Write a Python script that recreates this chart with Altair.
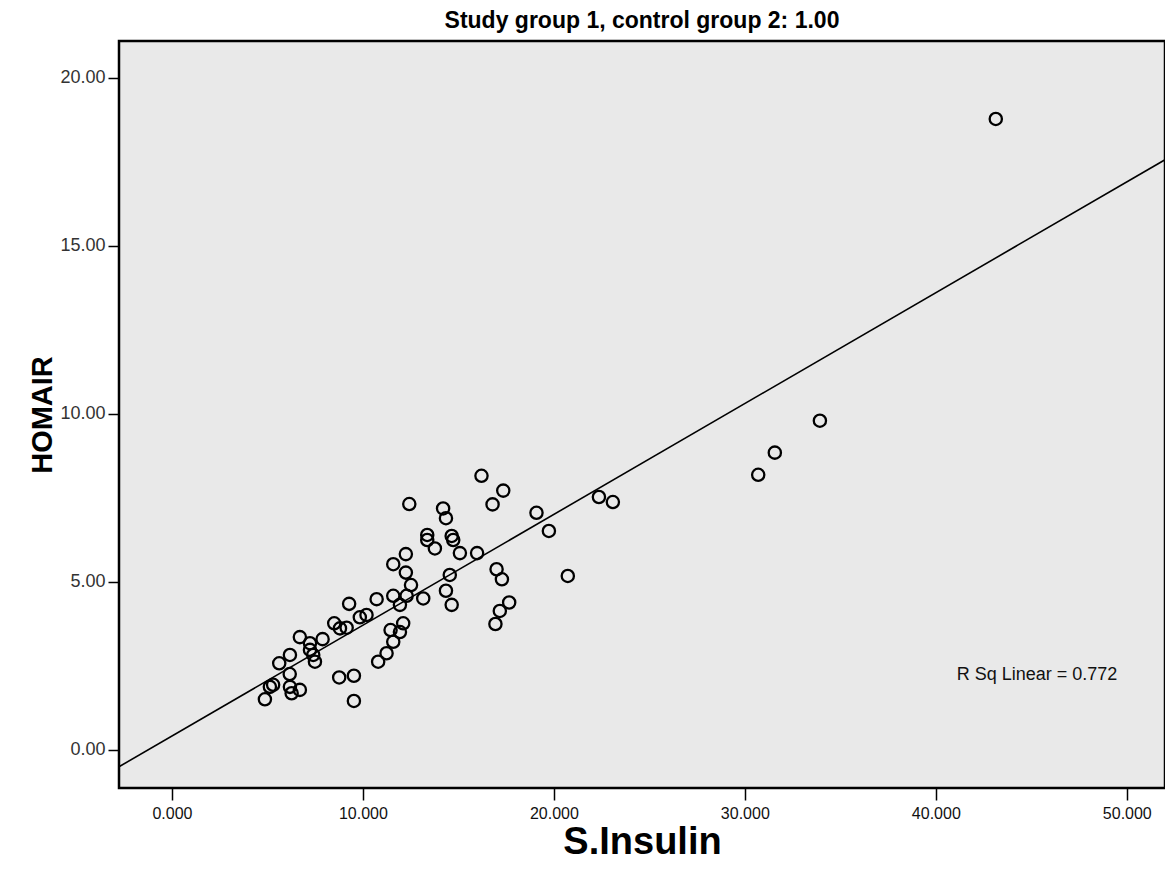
import altair as alt
import pandas as pd

# S.Insulin values (x) and HOMAIR values (y)
insulin = [43.14, 33.93, 31.57, 30.70, 22.36, 23.09, 20.73, 16.21, 17.35, 16.79,
           19.09, 19.74, 15.98, 15.08, 14.65, 14.73, 14.20, 14.35, 17.00, 17.28,
           14.55, 14.35, 14.65, 17.66, 17.17, 16.94, 12.43, 13.37, 13.37, 13.77,
           12.25, 11.59, 12.25, 12.52, 10.72, 11.59, 12.29, 13.16, 11.94, 9.28,
           9.84, 10.19, 8.50, 8.80, 9.15, 12.11, 11.45, 11.94, 11.59, 11.24,
           10.80, 6.70, 7.89, 7.23, 7.23, 7.40, 7.49, 6.18, 5.62, 6.17,
           5.13, 5.30, 4.87, 6.18, 6.27, 6.70, 8.76, 9.53, 9.53]
homair = [18.77, 9.79, 8.84, 8.18, 7.52, 7.37, 5.17, 8.15, 7.71, 7.30,
          7.05, 6.51, 5.85, 5.85, 6.36, 6.24, 7.18, 6.89, 5.37, 5.07,
          5.20, 4.73, 4.31, 4.38, 4.13, 3.74, 7.31, 6.39, 6.24, 5.99,
          5.82, 5.52, 5.27, 4.90, 4.48, 4.58, 4.58, 4.50, 4.31, 4.34,
          3.94, 4.01, 3.76, 3.61, 3.63, 3.76, 3.56, 3.50, 3.21, 2.87,
          2.62, 3.35, 3.29, 3.17, 2.97, 2.82, 2.62, 2.82, 2.57, 2.25,
          1.87, 1.93, 1.50, 1.87, 1.68, 1.78, 2.15, 2.20, 1.45]

x_ticks = [0, 10, 20, 30, 40, 50]
y_ticks = [0, 5, 10, 15, 20]
x_domain = [-2.77, 52.0]
y_domain = [-1.14, 21.09]

annot_x = [45.3]
annot_y = [2.22]
annot_text = ["R Sq Linear = 0.772"]

title_text = "Study group 1, control group 2: 1.00"

df = pd.DataFrame({"insulin": insulin, "homair": homair})
adf = pd.DataFrame({"insulin": annot_x, "homair": annot_y, "label": annot_text})

FONT = "Liberation Sans, Arial, sans-serif"

xscale = alt.Scale(domain=x_domain, nice=False, zero=False)
yscale = alt.Scale(domain=y_domain, nice=False, zero=False)

xaxis = alt.Axis(title="S.Insulin", values=x_ticks, format=".3f", grid=False, domain=False,
                 tickSize=12, tickColor="black", tickWidth=1.5,
                 labelFont=FONT, labelFontSize=16, labelColor="#111", labelPadding=5,
                 titleFont=FONT, titleFontSize=38, titleFontWeight="bold", titleColor="black",
                 titlePadding=2)
yaxis = alt.Axis(title="HOMAIR", values=y_ticks, format=".2f", grid=False, domain=False,
                 tickSize=11, tickColor="black", tickWidth=1.5,
                 labelFont=FONT, labelFontSize=18, labelColor="#333", labelPadding=3,
                 titleFont=FONT, titleFontSize=29, titleFontWeight="bold", titleColor="black",
                 titlePadding=2)

X = alt.X("insulin:Q", scale=xscale, axis=xaxis)
Y = alt.Y("homair:Q", scale=yscale, axis=yaxis)

base = alt.Chart(df).encode(x=X, y=Y)

points = base.mark_point(shape="circle", filled=False, size=150, strokeWidth=2.3,
                         color="black", opacity=1)

fit = base.transform_regression("insulin", "homair", extent=x_domain).mark_line(
    color="black", strokeWidth=1.6, clip=True)

label = alt.Chart(adf).mark_text(font=FONT, fontSize=18, align="center", color="#111").encode(
    x=X, y=Y, text="label:N")

chart = alt.layer(points, fit, label).properties(
    width=1046, height=747,
    title=alt.TitleParams(title_text, font=FONT, fontSize=23, fontWeight="bold",
                          anchor="middle", offset=8, color="black"),
    autosize=alt.AutoSizeParams(type="none"),
    padding={"left": 111, "top": 33, "right": 0, "bottom": 74},
    background="white",
).configure_view(fill="#e9e9e9", stroke="black", strokeWidth=2.5)

chart.save("out.html", embed_options={"renderer": "svg", "actions": False})
